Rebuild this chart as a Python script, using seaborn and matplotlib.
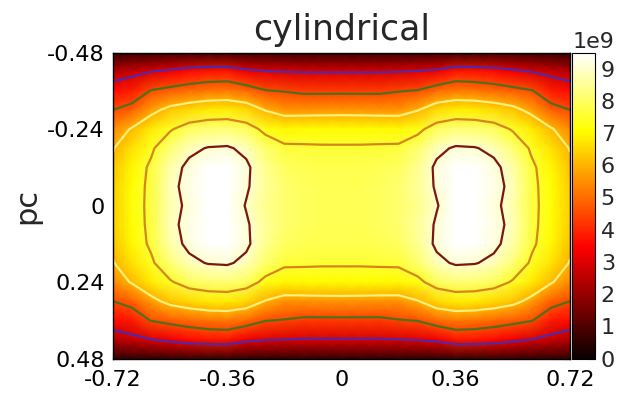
import numpy as np
import matplotlib
matplotlib.use("Agg")
import matplotlib.pyplot as plt
import seaborn as sns

# grid nodes of the top-left quarter (pc); the field is mirrored to the other three
x_quarter = [-0.72, -0.66, -0.60, -0.54, -0.48, -0.42, -0.36, -0.30, -0.24, -0.18, -0.12, -0.06, 0.0]
y_quarter = [-0.48, -0.42, -0.36, -0.30, -0.24, -0.18, -0.12, -0.06, 0.0]

# values, in units of 1e9, one list per row (y)
row_m048 = [0.6, 0.6, 0.6, 0.65, 0.7, 0.7, 0.7, 0.6, 0.6, 0.6, 0.6, 0.6, 0.6]
row_m042 = [2.4, 2.7, 3.0, 3.3, 3.6, 3.75, 3.8, 3.3, 3.1, 3.0, 2.95, 2.95, 2.95]
row_m036 = [3.6, 3.85, 4.55, 4.8, 5.0, 5.15, 5.2, 5.0, 4.55, 4.45, 4.3, 4.3, 4.3]
row_m030 = [4.5, 4.85, 5.7, 6.3, 6.6, 6.8, 6.85, 6.6, 5.95, 5.55, 5.55, 5.58, 5.6]
row_m024 = [5.4, 6.1, 6.8, 7.4, 7.95, 8.15, 8.2, 7.95, 7.25, 7.0, 7.05, 7.05, 7.05]
row_m018 = [5.95, 6.7, 7.35, 8.2, 8.8, 9.05, 9.1, 8.8, 8.1, 7.65, 7.62, 7.6, 7.6]
row_m012 = [6.2, 7.0, 7.65, 8.65, 9.2, 9.5, 9.55, 9.15, 8.45, 7.95, 7.85, 7.8, 7.8]
row_m006 = [6.35, 7.1, 7.7, 8.8, 9.25, 9.6, 9.6, 9.1, 8.5, 8.1, 7.95, 7.85, 7.85]
row_000 = [6.4, 7.15, 7.7, 8.75, 9.15, 9.5, 9.5, 8.95, 8.4, 8.1, 7.95, 7.9, 7.9]

contour_levels = [3.0, 4.5, 6.0, 7.5, 9.0]
contour_colors = ["#5426a8", "#4f6f1c", "#fff07a", "#d4861a", "#7c1515"]

x_ticks = [-0.72, -0.36, 0, 0.36, 0.72]
x_tick_labels = ["-0.72", "-0.36", "0", "0.36", "0.72"]
y_ticks = [-0.48, -0.24, 0, 0.24, 0.48]
y_tick_labels = ["-0.48", "-0.24", "0", "0.24", "0.48"]
cbar_ticks = [0, 1, 2, 3, 4, 5, 6, 7, 8, 9]

# build the full table by mirroring the quarter
quarter = [row_m048, row_m042, row_m036, row_m030, row_m024,
           row_m018, row_m012, row_m006, row_000]
half_rows = [r + r[-2::-1] for r in quarter]
full_rows = half_rows + half_rows[-2::-1]
xs = x_quarter + [-v for v in x_quarter[-2::-1]]
ys = y_quarter + [-v for v in y_quarter[-2::-1]]
X, Y = np.meshgrid(xs, ys)
Z = np.array(full_rows) * 1e9

sns.set_style("ticks", {"xtick.direction": "in", "ytick.direction": "in"})
plt.rcParams["font.family"] = ["DejaVu Sans"]

fig = plt.figure(figsize=(6.4, 3.94), dpi=100)
ax = fig.add_axes([0.1766, 0.090, 0.714, 0.7766])
cax = fig.add_axes([0.894, 0.090, 0.036, 0.7766])

mesh = ax.pcolormesh(X, Y, Z, cmap="hot", shading="gouraud", vmin=0, vmax=9.5e9)
ax.contour(X, Y, Z, levels=[v * 1e9 for v in contour_levels],
           colors=contour_colors, linewidths=1.6)

ax.set_xlim(-0.72, 0.72)
ax.set_ylim(0.48, -0.48)
ax.set_xticks(x_ticks)
ax.set_xticklabels(x_tick_labels)
ax.set_yticks(y_ticks)
ax.set_yticklabels(y_tick_labels)
ax.tick_params(direction="in", top=True, right=True, length=5, width=0.8,
               labelsize=16, colors="black", pad=6)
ax.tick_params(axis="x", pad=8)
for s in ax.spines.values():
    s.set_visible(True)
    s.set_color("black")
    s.set_linewidth(1)
ax.set_title("cylindrical", fontsize=25, pad=9)
ax.set_ylabel("pc", fontsize=22, labelpad=4)

cb = fig.colorbar(mesh, cax=cax, ticks=[v * 1e9 for v in cbar_ticks])
cb.ax.tick_params(direction="in", length=5, width=0.8, labelsize=16, pad=4)
off = cb.ax.yaxis.get_offset_text()
off.set_fontsize(16)
off.set_x(0.0)
off.set_horizontalalignment("left")
cb.outline.set_edgecolor("black")

fig.savefig("out.png", dpi=100)
